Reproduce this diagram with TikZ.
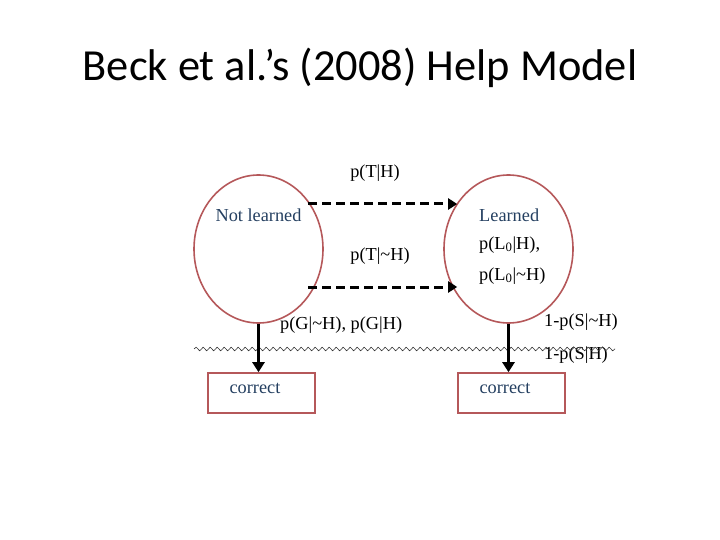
\documentclass[tikz,border=0pt]{standalone}
\usepackage{fontspec}
\setmainfont{Liberation Serif}
\newfontfamily\titlefont{Carlito}
\usepackage{tikz}
\usetikzlibrary{positioning,arrows.meta,shapes.geometric,decorations.pathmorphing}
\definecolor{brick}{HTML}{B5585A}
\definecolor{slate}{HTML}{243F60}
\tikzset{
  stateellipse/.style={ellipse, draw=brick, line width=1.6pt, minimum width=129pt, minimum height=148pt, inner sep=0pt},
  outbox/.style={draw=brick, line width=1.6pt, minimum width=107pt, minimum height=40pt, inner sep=0pt},
  statetext/.style={inner sep=0pt, text=slate, font=\fontsize{18.3}{21}\selectfont},
  problabel/.style={inner sep=0pt, text=black, font=\fontsize{18.3}{21}\selectfont},
  dasharrow/.style={-{Triangle[length=9pt,width=11pt]}, line width=3pt, dash pattern=on 9pt off 5pt, draw=black},
  downarrow/.style={-{Triangle[length=10pt,width=12pt]}, line width=3pt, draw=black},
  wavyline/.style={draw=black!80, line width=0.6pt, decorate, decoration={snake, segment length=7pt, amplitude=1.8pt}}
}
\begin{document}
\begin{tikzpicture}[x=1pt,y=-1pt]
  \useasboundingbox (0,0) rectangle (720,540);
  \node[font=\titlefont\fontsize{44.4}{52}\selectfont] (title) at (360,68) {Beck et al.’s (2008) Help Model};
  \node[stateellipse] (notlearned) at (258.5,249) {};
  \node[stateellipse] (learned) at (508.5,249) {};
  \node[statetext] (nltext) at (258.5,215) {Not learned};
  \node[statetext, anchor=west] (ltext) at (479,215) {Learned};
  \node[problabel, anchor=west] (linith) at (479,245) {p(L\textsubscript{0}|H),};
  \node[problabel, anchor=west] (linitnh) at (479,276) {p(L\textsubscript{0}|\textasciitilde H)};
  \node[problabel] (transh) at (375,173) {p(T|H)};
  \node[problabel] (transnh) at (380,256) {p(T|\textasciitilde H)};
  \node[problabel, anchor=west] (guess) at (280,325) {p(G|\textasciitilde H), p(G|H)};
  \node[problabel, anchor=west] (slipnh) at (544,322) {1-p(S|\textasciitilde H)};
  \node[problabel, anchor=west] (sliph) at (544,355) {1-p(S|H)};
  \node[outbox] (leftout) at (261.5,393) {};
  \node[outbox] (rightout) at (511.5,393) {};
  \node[statetext] (lefttext) at ([xshift=-6.5pt,yshift=5pt]leftout.center) {correct};
  \node[statetext] (righttext) at ([xshift=-6.5pt,yshift=5pt]rightout.center) {correct};
  \coordinate (wavestart) at (194,349);
  \coordinate (waveend) at (615,349);
  \draw[wavyline] (wavestart) -- (waveend);
  \coordinate (toptail) at (308,204);
  \coordinate (bottail) at (308,287);
  \draw[dasharrow] (toptail) -- ([xshift=14pt]toptail -| learned.west);
  \draw[dasharrow] (bottail) -- ([xshift=14pt]bottail -| learned.west);
  \draw[downarrow] (notlearned.south) -- (notlearned.south |- leftout.north);
  \draw[downarrow] (learned.south) -- (learned.south |- rightout.north);
\end{tikzpicture}
\end{document}
